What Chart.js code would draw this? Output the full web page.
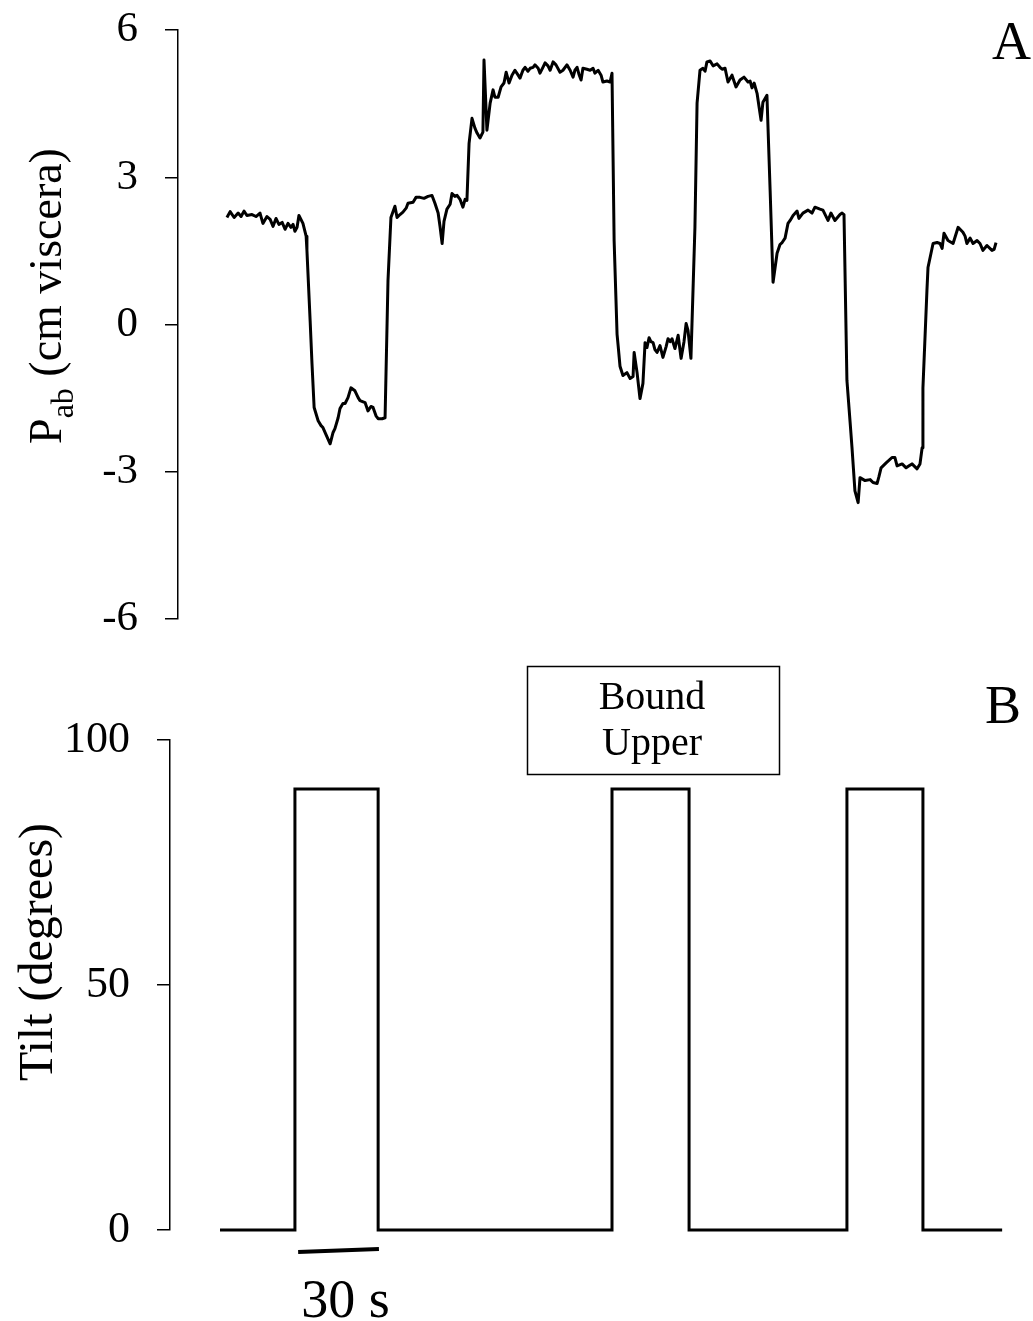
<!DOCTYPE html>
<html>
<head>
<meta charset="utf-8">
<script src="https://cdn.jsdelivr.net/npm/chart.js@4.4.1/dist/chart.umd.min.js"></script>
<style>
  html, body { margin: 0; padding: 0; background: #fff; }
  #wrap { position: relative; width: 1033px; height: 1321px; }
  #pabBox { position: absolute; left: 0; top: 0; width: 1033px; height: 650px; }
  #tiltBox { position: absolute; left: 0; top: 650px; width: 1033px; height: 671px; }
</style>
</head>
<body>
<div id="wrap">
  <div id="pabBox"><canvas id="pabChart"></canvas></div>
  <div id="tiltBox"><canvas id="tiltChart"></canvas></div>
</div>
<script>
/* ── Data: panel A, abdominal pressure trace (time in s, cm viscera) ── */
const pabTime = [
  2.6, 3.8, 5.3, 6.8, 7.9, 9.0, 10.1, 12.0, 13.5, 15.0, 16.1, 17.6, 18.8, 19.9, 21.0, 22.1,
  23.3, 24.4, 25.5, 26.6, 27.4, 28.1, 28.9, 29.6, 31.1, 32.3, 32.6, 33.8, 34.5, 35.3, 36.8,
  37.9, 38.6, 39.8, 41.3, 42.4, 43.1, 44.3, 45.0, 46.1, 46.9, 48.0, 49.1, 50.6, 51.8, 52.5,
  54.4, 55.5, 56.6, 57.4, 58.5, 59.3, 60.8, 61.9, 63.0, 64.1, 65.6, 66.4, 67.5, 68.6, 69.8,
  70.5, 72.4, 73.5, 75.0, 76.5, 78.0, 79.5, 80.6, 81.8, 82.5, 83.3, 84.0, 85.1, 86.3, 87.0,
  88.1, 88.9, 90.0, 91.1, 91.9, 92.6, 93.4, 94.5, 95.6, 96.4, 97.5, 98.6, 99.0, 100.1, 101.3,
  102.4, 103.1, 104.3, 105.4, 106.5, 107.3, 108.4, 109.5, 110.6, 111.8, 112.5, 113.6, 114.4,
  115.5, 116.3, 117.4, 118.1, 119.3, 120.0, 121.1, 121.9, 123.0, 123.8, 124.9, 126.0, 127.5,
  128.6, 130.1, 131.3, 132.4, 133.1, 133.9, 134.6, 135.4, 136.1, 137.6, 138.8, 139.9, 140.6,
  141.8, 142.9, 143.6, 145.1, 146.3, 147.0, 147.8, 148.9, 149.3, 150.0, 151.1, 152.6, 153.8,
  154.9, 155.3, 156.4, 157.5, 158.6, 159.4, 160.1, 160.9, 161.6, 162.4, 163.1, 163.9, 165.0,
  166.1, 167.3, 168.0, 168.8, 169.5, 170.6, 171.8, 172.9, 174.0, 174.8, 175.5, 176.6, 178.1,
  178.9, 180.0, 181.1, 181.9, 182.6, 183.8, 184.9, 186.4, 187.5, 188.3, 189.4, 190.5, 192.0,
  193.5, 195.0, 196.5, 198.0, 198.8, 199.5, 200.3, 201.4, 202.1, 202.9, 203.6, 205.1, 206.3,
  207.4, 208.9, 210.0, 210.8, 211.9, 213.0, 213.8, 214.9, 216.4, 217.1, 218.6, 220.5, 222.0,
  223.1, 225.0, 226.1, 228.0, 229.1, 230.6, 232.5, 233.3, 234.0, 235.1, 236.3, 237.0, 238.1,
  239.3, 240.0, 241.9, 243.8, 244.9, 246.4, 247.1, 247.9, 249.8, 252.0, 253.1, 253.9, 255.8,
  257.3, 258.4, 259.5, 261.4, 262.5, 263.3, 263.6, 265.1, 265.5, 267.4, 268.9, 270.0, 270.8,
  271.5, 273.0, 274.9, 276.8, 278.6, 279.4, 280.1, 281.3, 282.4, 283.9, 285.0, 286.1, 287.6,
  289.5, 290.3, 291.0
];
const pabValue = [
  2.18, 2.30, 2.18, 2.27, 2.20, 2.31, 2.22, 2.24, 2.20, 2.27, 2.06, 2.20, 2.14, 2.00, 2.16, 2.04,
  2.08, 1.94, 2.06, 1.98, 2.04, 1.90, 1.98, 2.22, 2.06, 1.80, 1.51, 0.08, -0.80, -1.69, -1.96,
  -2.06, -2.10, -2.25, -2.43, -2.20, -2.12, -1.90, -1.71, -1.61, -1.61, -1.49, -1.29, -1.35, -1.49, -1.55,
  -1.59, -1.76, -1.67, -1.69, -1.86, -1.92, -1.92, -1.90, 0.90, 2.18, 2.41, 2.18, 2.24, 2.29, 2.37,
  2.47, 2.49, 2.59, 2.59, 2.57, 2.61, 2.63, 2.47, 2.27, 2.00, 1.65, 2.10, 2.35, 2.45, 2.67,
  2.61, 2.63, 2.55, 2.39, 2.55, 2.53, 3.69, 4.20, 4.00, 3.90, 3.80, 3.92, 5.39, 3.96, 4.51,
  4.78, 4.63, 4.63, 4.84, 4.92, 5.14, 4.92, 5.08, 5.18, 5.08, 5.02, 5.18, 5.24,
  5.16, 5.22, 5.24, 5.29, 5.22, 5.12, 5.24, 5.33, 5.27, 5.18, 5.35, 5.29, 5.14,
  5.18, 5.29, 5.18, 5.04, 5.18, 5.24, 5.10, 4.98, 5.22, 5.20, 5.18, 5.22, 5.12,
  5.18, 5.08, 4.94, 4.96, 4.94, 5.12, 1.70, -0.20, -0.43, -0.85, -1.04, -0.98, -1.10,
  -1.06, -0.57, -0.98, -1.51, -1.20, -0.37, -0.47, -0.27, -0.35, -0.37, -0.51, -0.57, -0.43,
  -0.67, -0.45, -0.29, -0.35, -0.29, -0.49, -0.22, -0.69, -0.35, 0.02, -0.12, -0.69, 1.98,
  4.51, 5.18, 5.22, 5.16, 5.35, 5.37, 5.27, 5.31, 5.24, 5.20, 5.22, 4.94, 5.08,
  4.84, 4.98, 5.04, 4.94, 4.96, 4.82, 4.92, 4.71, 4.45, 4.16, 4.53, 4.67, 2.73,
  0.86, 1.45, 1.63, 1.67, 1.76, 2.06, 2.12, 2.22, 2.31, 2.16, 2.27, 2.33, 2.27,
  2.39, 2.35, 2.33, 2.12, 2.27, 2.12, 2.24, 2.27, 2.24, -1.14, -2.00, -2.51, -3.39,
  -3.63, -3.12, -3.18, -3.16, -3.22, -3.24, -3.10, -2.92, -2.82, -2.71, -2.71, -2.88, -2.84,
  -2.92, -2.88, -2.84, -2.94, -2.84, -2.51, -1.29, 0.69, 1.16, 1.65, 1.67, 1.65, 1.55,
  1.86, 1.71, 1.65, 1.98, 1.88, 1.80, 1.65, 1.76, 1.65, 1.71, 1.65, 1.51, 1.61,
  1.51, 1.53, 1.67
];
const pabTicks = [-6, -3, 0, 3, 6];
const pabTickLabels = ["-6", "-3", "0", "3", "6"];

/* ── Data: panel B, tilt protocol (time in s, degrees) ── */
const tiltTime = [0, 28.1, 28.1, 59.3, 59.3, 147.0, 147.0, 175.9, 175.9, 235.1, 235.1, 263.6, 263.6, 293.3];
const tiltDeg = [0, 0, 90, 90, 0, 0, 90, 90, 0, 0, 90, 90, 0, 0];
const tiltTicks = [0, 50, 100];
const tiltTickLabels = ["0", "50", "100"];

/* ── Scale bar (s) and texts ── */
const scaleBarStart = 29.3;
const scaleBarEnd = 59.6;
const scaleBarLabel = "30 s";
const boxLines = ["Bound", "Upper"];
const panelA = "A";
const panelB = "B";
const tiltTitle = "Tilt (degrees)";

const SERIF = "'Liberation Serif', 'Times New Roman', Times, serif";
const BLACK = "#000";

/* ── Shared axis style ── */
function yAxis(min, max, ticks, labels, width, fontSize, tickLen) {
  return {
    min, max,
    afterBuildTicks: (s) => { s.ticks = ticks.map((v) => ({ value: v })); },
    afterFit: (s) => {
      s.width = width;
      s.paddingTop = 0;
      s.paddingBottom = 0;
    },
    grid: { drawOnChartArea: false, drawTicks: true, tickLength: tickLen, color: BLACK, lineWidth: 1.5 },
    border: { display: true, color: BLACK, width: 1.5 },
    ticks: {
      color: BLACK,
      padding: 27,
      font: { family: SERIF, size: fontSize },
      callback: (v) => labels[ticks.indexOf(v)],
    },
  };
}

/* ── Panel A ── */
const pabPlugin = {
  id: "pabText",
  afterDraw(chart) {
    const ctx = chart.ctx;
    ctx.save();
    ctx.fillStyle = BLACK;
    ctx.textBaseline = "alphabetic";
    ctx.textAlign = "left";
    ctx.font = `54px ${SERIF}`;
    ctx.fillText(panelA, 992, 59);

    // y title with subscript: P_ab (cm viscera)
    const big = `46px ${SERIF}`;
    const small = `32px ${SERIF}`;
    ctx.font = big;
    const wP = ctx.measureText("P").width;
    const wRest = ctx.measureText(" (cm viscera)").width;
    ctx.font = small;
    const wSub = ctx.measureText("ab").width;
    const total = wP + wSub + wRest;
    ctx.translate(61, 296);
    ctx.rotate(-Math.PI / 2);
    let x = -total / 2;
    ctx.font = big;
    ctx.fillText("P", x, 0);
    x += wP;
    ctx.font = small;
    ctx.fillText("ab", x, 12);
    x += wSub;
    ctx.font = big;
    ctx.fillText(" (cm viscera)", x, 0);
    ctx.restore();
  },
};

new Chart(document.getElementById("pabChart"), {
  type: "line",
  data: {
    datasets: [{
      data: pabTime.map((t, i) => ({ x: t, y: pabValue[i] })),
      borderColor: BLACK,
      borderWidth: 3,
      pointRadius: 0,
      tension: 0,
      clip: false,
      borderJoinStyle: "round",
    }],
  },
  options: {
    animation: false,
    responsive: true,
    maintainAspectRatio: false,
    devicePixelRatio: 1,
    layout: { padding: { top: 30, bottom: 31, left: 0, right: 23 } },
    plugins: { legend: { display: false }, tooltip: { enabled: false } },
    scales: {
      x: { type: "linear", display: false, min: -15.75, max: 296.25 },
      y: yAxis(-6, 6, pabTicks, pabTickLabels, 178, 43, 13),
    },
  },
  plugins: [pabPlugin],
});

/* ── Panel B ── */
const tiltPlugin = {
  id: "tiltText",
  afterDraw(chart) {
    const ctx = chart.ctx;
    const xs = chart.scales.x;
    const area = chart.chartArea;
    ctx.save();
    ctx.fillStyle = BLACK;
    ctx.strokeStyle = BLACK;
    ctx.textBaseline = "alphabetic";

    // panel letter
    ctx.textAlign = "left";
    ctx.font = `54px ${SERIF}`;
    ctx.fillText(panelB, 985, 73);

    // boxed label
    ctx.lineWidth = 1.5;
    ctx.strokeRect(527.5, 16.5, 252, 108);
    ctx.textAlign = "center";
    ctx.font = `40px ${SERIF}`;
    ctx.fillText(boxLines[0], 652, 59);
    ctx.fillText(boxLines[1], 652, 105);

    // time scale bar
    const x0 = xs.getPixelForValue(scaleBarStart);
    const x1 = xs.getPixelForValue(scaleBarEnd);
    ctx.lineWidth = 4;
    ctx.beginPath();
    ctx.moveTo(x0, area.bottom + 22);
    ctx.lineTo(x1, area.bottom + 19);
    ctx.stroke();
    ctx.font = `54px ${SERIF}`;
    ctx.fillText(scaleBarLabel, (x0 + x1) / 2 + 7, area.bottom + 87);

    // y title
    ctx.translate(52, 302);
    ctx.rotate(-Math.PI / 2);
    ctx.textAlign = "center";
    ctx.font = `48px ${SERIF}`;
    ctx.fillText(tiltTitle, 0, 0);
    ctx.restore();
  },
};

new Chart(document.getElementById("tiltChart"), {
  type: "line",
  data: {
    datasets: [{
      data: tiltTime.map((t, i) => ({ x: t, y: tiltDeg[i] })),
      borderColor: BLACK,
      borderWidth: 3,
      pointRadius: 0,
      tension: 0,
      clip: false,
      borderJoinStyle: "miter",
    }],
  },
  options: {
    animation: false,
    responsive: true,
    maintainAspectRatio: false,
    devicePixelRatio: 1,
    layout: { padding: { top: 90, bottom: 91, left: 0, right: 23 } },
    plugins: { legend: { display: false }, tooltip: { enabled: false } },
    scales: {
      x: { type: "linear", display: false, min: -18.75, max: 296.25 },
      y: yAxis(0, 100, tiltTicks, tiltTickLabels, 170, 44, 13),
    },
  },
  plugins: [tiltPlugin],
});
</script>
</body>
</html>
